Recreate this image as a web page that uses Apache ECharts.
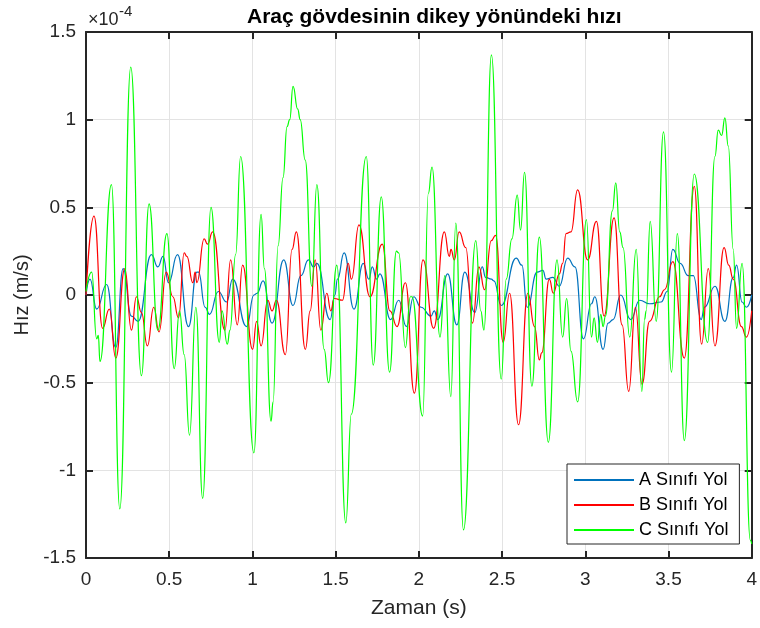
<!DOCTYPE html>
<html>
<head>
<meta charset="utf-8">
<script src="https://cdn.jsdelivr.net/npm/echarts@6/dist/echarts.min.js"></script>
<style>
  html, body { margin: 0; padding: 0; background: #fff; }
  #chart { width: 760px; height: 628px; }
</style>
</head>
<body>
<div id="chart"></div>
<script>
// Vertical body velocity, values in units of 1e-4 m/s, time in seconds.
const seriesNames = ['A Sınıfı Yol', 'B Sınıfı Yol', 'C Sınıfı Yol'];
const xTicks = [0, 0.5, 1, 1.5, 2, 2.5, 3, 3.5, 4];
const yTicks = [-1.5, -1, -0.5, 0, 0.5, 1, 1.5];

// A class road
const timeA = [0, 0.024, 0.064, 0.124, 0.179, 0.223, 0.273, 0.313, 0.393, 0.432, 0.463, 0.496, 0.550, 0.616, 0.666, 0.676, 0.716, 0.742, 0.795, 0.845, 0.881, 0.965, 1.009, 1.028, 1.064, 1.118, 1.188, 1.244, 1.291, 1.337, 1.368, 1.387, 1.467, 1.495, 1.511, 1.551, 1.610, 1.666, 1.700, 1.720, 1.746, 1.766, 1.830, 1.879, 1.925, 1.969, 2.013, 2.073, 2.093, 2.113, 2.173, 2.228, 2.276, 2.336, 2.381, 2.401, 2.436, 2.451, 2.495, 2.585, 2.619, 2.651, 2.711, 2.745, 2.765, 2.805, 2.844, 2.894, 2.938, 2.989, 3.037, 3.057, 3.107, 3.137, 3.167, 3.213, 3.273, 3.327, 3.386, 3.456, 3.492, 3.526, 3.570, 3.619, 3.649, 3.696, 3.716, 3.779, 3.839, 3.889, 3.909, 3.942, 3.968, 4.0];
const velA = [0, 0.09, -0.08, 0.06, -0.30, 0.15, -0.12, -0.15, 0.23, 0.16, 0.22, 0.07, 0.23, -0.18, 0.13, 0.13, -0.07, -0.11, 0.02, -0.04, 0.09, -0.18, 0.0, 0.01, 0.08, -0.16, 0.20, -0.06, 0.11, 0.20, 0.16, 0.18, -0.14, 0.0, 0.09, 0.24, -0.08, 0.18, 0.09, 0.16, 0.09, 0.12, -0.14, -0.03, -0.18, -0.01, -0.07, -0.12, -0.09, -0.14, 0.12, -0.17, 0.13, -0.10, 0.16, 0.10, 0.09, 0.08, -0.06, 0.21, 0.17, -0.07, 0.13, 0.14, 0.09, 0.10, 0.05, 0.21, 0.16, -0.25, -0.05, -0.01, -0.31, -0.16, -0.14, 0.0, -0.14, -0.03, -0.05, -0.04, 0.02, 0.26, 0.18, 0.11, 0.11, -0.14, -0.07, 0.05, -0.15, 0.10, 0.17, -0.04, -0.07, 0.0];

// B class road
const timeB = [0, 0.048, 0.100, 0.140, 0.179, 0.233, 0.273, 0.303, 0.333, 0.369, 0.407, 0.439, 0.482, 0.522, 0.556, 0.590, 0.606, 0.642, 0.656, 0.666, 0.710, 0.730, 0.761, 0.835, 0.869, 0.909, 0.941, 1.001, 1.025, 1.052, 1.092, 1.118, 1.144, 1.198, 1.238, 1.264, 1.318, 1.347, 1.377, 1.411, 1.447, 1.471, 1.491, 1.541, 1.575, 1.595, 1.640, 1.706, 1.780, 1.826, 1.869, 1.919, 1.973, 2.025, 2.089, 2.153, 2.183, 2.193, 2.213, 2.242, 2.282, 2.322, 2.361, 2.395, 2.435, 2.461, 2.507, 2.545, 2.599, 2.655, 2.695, 2.724, 2.738, 2.784, 2.808, 2.844, 2.864, 2.884, 2.914, 2.954, 3.014, 3.067, 3.113, 3.173, 3.221, 3.261, 3.301, 3.341, 3.386, 3.446, 3.476, 3.526, 3.595, 3.655, 3.699, 3.739, 3.779, 3.834, 3.862, 3.889, 3.938, 3.968, 4.0];
const velB = [0, 0.45, -0.19, -0.08, -0.36, 0.15, -0.20, -0.01, -0.10, -0.29, -0.07, -0.21, 0.13, -0.01, -0.13, 0.24, 0.22, 0.07, 0.13, 0.07, 0.32, 0.29, 0.36, -0.20, 0.20, -0.17, 0.17, -0.31, -0.15, -0.29, -0.03, -0.09, -0.03, -0.34, 0.26, 0.36, -0.31, -0.09, 0.20, -0.20, 0.01, -0.09, -0.02, -0.03, 0.18, 0.09, 0.40, -0.01, 0.29, -0.09, -0.18, 0.07, -0.56, 0.20, -0.19, 0.36, 0.22, 0.26, 0.20, 0.36, 0.27, -0.16, 0.16, 0.03, 0.31, 0.34, -0.27, 0.01, -0.74, 0.01, -0.18, -0.37, -0.33, 0.09, 0.01, 0.12, 0.18, 0.35, 0.36, 0.60, 0.20, 0.42, -0.12, 0.44, -0.17, -0.55, -0.07, -0.51, -0.15, -0.01, 0.03, 0.19, -0.36, 0.62, -0.28, 0.15, -0.29, 0.27, 0.17, 0.09, -0.18, -0.24, -0.09];

// C class road
const timeC = [0, 0.034, 0.064, 0.074, 0.084, 0.153, 0.203, 0.269, 0.333, 0.379, 0.432, 0.486, 0.530, 0.562, 0.590, 0.622, 0.660, 0.701, 0.751, 0.801, 0.817, 0.849, 0.865, 0.899, 0.929, 1.009, 1.052, 1.072, 1.112, 1.124, 1.154, 1.184, 1.208, 1.224, 1.244, 1.272, 1.287, 1.317, 1.357, 1.387, 1.431, 1.457, 1.507, 1.561, 1.594, 1.684, 1.726, 1.774, 1.824, 1.865, 1.879, 1.919, 1.949, 1.959, 2.023, 2.057, 2.079, 2.127, 2.156, 2.192, 2.222, 2.268, 2.342, 2.372, 2.391, 2.436, 2.495, 2.525, 2.559, 2.591, 2.611, 2.635, 2.679, 2.724, 2.778, 2.830, 2.864, 2.888, 2.914, 2.954, 3.007, 3.037, 3.053, 3.073, 3.093, 3.107, 3.121, 3.163, 3.183, 3.207, 3.227, 3.267, 3.306, 3.340, 3.356, 3.366, 3.390, 3.426, 3.470, 3.518, 3.553, 3.595, 3.655, 3.735, 3.779, 3.799, 3.819, 3.839, 3.859, 3.889, 3.909, 3.942, 3.992, 4.0];
const velC = [0.02, 0.13, -0.25, -0.23, -0.38, 0.63, -1.22, 1.30, -0.46, 0.52, -0.20, 0.35, -0.42, -0.09, -0.34, -0.80, -0.07, -1.16, 0.50, -0.27, -0.09, -0.28, -0.20, 0.23, 0.79, -0.90, 0.46, 0.15, -0.72, -0.61, 0.28, 0.67, 0.96, 1.00, 1.19, 1.06, 1.00, 0.77, 0.05, 0.63, -0.31, -0.50, 0.17, -1.30, -0.68, 0.79, -0.40, 0.56, -0.44, 0.25, 0.24, -0.30, -0.01, -0.01, -0.69, 0.58, 0.73, -0.24, 0.11, -0.58, 0.41, -1.34, 0.31, -0.09, -0.20, 1.37, -0.48, 0.09, 0.32, 0.57, 0.37, 0.70, -0.52, 0.33, -0.84, 0.20, -0.24, -0.02, -0.32, -0.61, 0.43, -0.24, -0.13, -0.27, -0.11, -0.18, -0.12, 0.48, 0.64, 0.36, 0.27, -0.24, 0.26, -0.55, -0.14, -0.09, 0.42, -0.15, 0.93, -0.44, 0.35, -0.83, 0.69, -0.27, 0.79, 0.94, 0.91, 1.01, 0.85, 0.26, -0.19, 0.18, -1.40, -1.42];

const lineColors = ['#0072BD', '#FF0000', '#00FF00'];
const FONT = '"Liberation Sans", Arial, Helvetica, sans-serif';
const INK = '#262626';

const pairs = (t, v) => t.map((x, i) => [x, v[i]]);
const seriesData = [pairs(timeA, velA), pairs(timeB, velB), pairs(timeC, velC)];

const chart = echarts.init(document.getElementById('chart'), null, { renderer: 'canvas' });

// Extra axes that only close the box and carry inward ticks on the top and right sides.
const frameAxis = (pos, isX) => ({
  type: 'value',
  position: pos,
  min: isX ? xTicks[0] : yTicks[0],
  max: isX ? xTicks[xTicks.length - 1] : yTicks[yTicks.length - 1],
  interval: 0.5,
  axisLine: { show: true, onZero: false, lineStyle: { color: INK, width: 2 } },
  axisTick: { show: true, inside: true, length: 7, lineStyle: { color: INK, width: 2 } },
  axisLabel: { show: false },
  splitLine: { show: false }
});

chart.setOption({
  animation: false,
  backgroundColor: '#ffffff',
  title: {
    text: 'Araç gövdesinin dikey yönündeki hızı',
    left: 247,
    top: 7,
    padding: 0,
    textStyle: { fontFamily: FONT, fontSize: 21, fontWeight: 'bold', color: '#000' }
  },
  graphic: [
    { type: 'text', left: 88, top: 11, style: { text: '×10', font: '18px ' + FONT, fill: INK } },
    { type: 'text', left: 119, top: 4, style: { text: '-4', font: '15px ' + FONT, fill: INK } }
  ],
  legend: {
    orient: 'vertical',
    left: 567,
    top: 464,
    data: seriesNames,
    icon: 'rect',
    itemWidth: 60,
    itemHeight: 2,
    itemGap: 7,
    padding: [7, 11, 5, 7],
    backgroundColor: '#ffffff',
    borderColor: INK,
    borderWidth: 1,
    textStyle: { fontFamily: FONT, fontSize: 18, color: '#000', lineHeight: 18 }
  },
  grid: { left: 86, right: 5, top: 32, bottom: 70, containLabel: false },
  xAxis: [
    {
      type: 'value',
      position: 'bottom',
      min: 0, max: 4, interval: 0.5,
      name: 'Zaman (s)',
      nameLocation: 'middle',
      nameGap: 40,
      nameTextStyle: { fontFamily: FONT, fontSize: 21, color: INK },
      axisLine: { show: true, onZero: false, lineStyle: { color: INK, width: 2 } },
      axisTick: { show: true, inside: true, length: 7, lineStyle: { color: INK, width: 2 } },
      axisLabel: { fontFamily: FONT, fontSize: 19, color: INK, margin: 12 },
      splitLine: { show: true, lineStyle: { color: '#e3e3e3', width: 1 } }
    },
    frameAxis('top', true)
  ],
  yAxis: [
    {
      type: 'value',
      position: 'left',
      min: -1.5, max: 1.5, interval: 0.5,
      name: 'Hız (m/s)',
      nameLocation: 'middle',
      nameGap: 52,
      nameTextStyle: { fontFamily: FONT, fontSize: 20, color: INK },
      axisLine: { show: true, onZero: false, lineStyle: { color: INK, width: 2 } },
      axisTick: { show: true, inside: true, length: 7, lineStyle: { color: INK, width: 2 } },
      axisLabel: { fontFamily: FONT, fontSize: 19, color: INK, margin: 10 },
      splitLine: { show: true, lineStyle: { color: '#e3e3e3', width: 1 } }
    },
    frameAxis('right', false)
  ],
  series: seriesNames.map((name, i) => ({
    name: name,
    type: 'line',
    data: seriesData[i],
    xAxisIndex: 0,
    yAxisIndex: 0,
    showSymbol: false,
    symbol: 'none',
    smooth: 0.5,
    smoothMonotone: 'x',
    clip: true,
    z: 2 + i,
    lineStyle: { color: lineColors[i], width: 1.2 },
    itemStyle: { color: lineColors[i] }
  }))
});
</script>
</body>
</html>
